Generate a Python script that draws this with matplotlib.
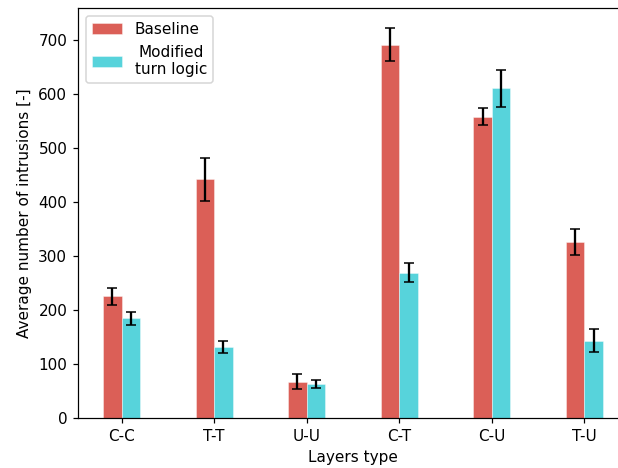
import matplotlib
matplotlib.use("Agg")
import matplotlib.pyplot as plt
import numpy as np

# values
layers = ["C-C", "T-T", "U-U", "C-T", "C-U", "T-U"]
baseline_mean = [226, 443, 68, 692, 559, 326]
baseline_err = [16, 40, 14, 31, 15, 24]
modified_mean = [185, 132, 64, 270, 611, 144]
modified_err = [12, 11, 8, 18, 34, 21]

colors = ["#db5f57", "#57d3db"]

DPI = 110
fig = plt.figure(figsize=(618 / DPI, 468 / DPI), dpi=DPI)
# the reference is cropped on the right, so the axes run past the figure edge
ax = fig.add_axes([0.1262, 0.106, 0.890, 0.876])

x = np.arange(len(layers))
width = 0.2
ax.bar(x - width / 2, baseline_mean, width, yerr=baseline_err, capsize=3.3,
       color=colors[0], edgecolor=(1, 1, 1, 0.5), linewidth=0.5, label="Baseline")
ax.bar(x + width / 2, modified_mean, width, yerr=modified_err, capsize=3.3,
       color=colors[1], edgecolor=(1, 1, 1, 0.5), linewidth=0.5, label="Modified\nturn logic")

ax.set_xticks(x)
ax.set_xticklabels(layers)
ax.set_xlabel("Layers type")
ax.set_ylabel("Average number of intrusions [-]")
leg = ax.legend(loc="upper left")
for t in leg.get_texts():
    t.set_multialignment("center")

fig.savefig("out.png", dpi=DPI)
